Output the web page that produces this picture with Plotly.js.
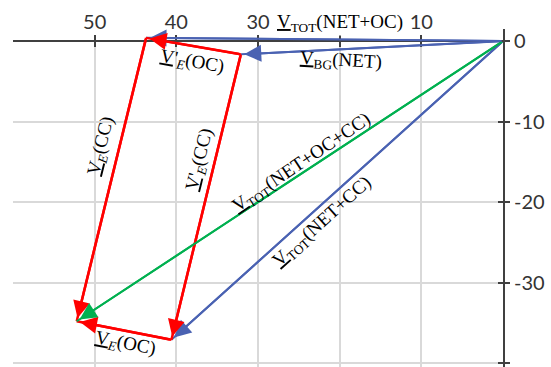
<!DOCTYPE html>
<html>
<head>
<meta charset="utf-8">
<script src="https://cdn.plot.ly/plotly-3.0.1.min.js"></script>
<style>html,body{margin:0;padding:0;background:#fff;}</style>
</head>
<body>
<div id="chart" style="width:551px;height:367px;"></div>
<script>
// ---- data ----
const pointNames = ['O', 'A', 'B', 'C', 'D'];
const pointX = [0, 43.7, 32.1, 52.2, 40.6];
const pointY = [0, 0.4, -1.65, -34.8, -37.1];

const vecNames = ['V_TOT(NET+OC)', 'V_BG(NET)', 'V_TOT(NET+CC)', "V'_E(OC)", 'V_E(CC)', "V'_E(CC)", 'V_E(OC)', 'V_TOT(NET+OC+CC)'];
const vecFrom  = ['O', 'O', 'O', 'B', 'A', 'B', 'D', 'O'];
const vecTo    = ['A', 'B', 'D', 'A', 'C', 'D', 'C', 'C'];
const vecKind  = ['blue', 'blue', 'blue', 'red', 'red', 'red', 'red', 'green'];

// the "20" label is hidden behind the V_TOT(NET+OC) caption in the reference
const xTickVals = [50, 40, 30, 20, 10];
const xTickText = ['50', '40', '30', '', '10'];
const yTickVals = [0, -10, -20, -30, -40];
const yTickText = ['0', '-10', '-20', '-30', '-40'];

// ---- styles ----
const kindStyle = {
  blue:  {color: '#4a62b2', width: 2},
  red:   {color: '#ff0000', width: 2.5},
  green: {color: '#00b050', width: 2}
};
const headPx = 3.4;            // arrow head scale (px per path unit)
const axisColor = '#404040';
const gridColor = '#d9d9d9';
const tickFont = {family: 'Lato, "Open Sans", sans-serif', size: 20, color: '#333333'};
const labelFont = {family: '"Liberation Serif", "DejaVu Serif", serif', size: 19, color: '#000000'};

const idx = n => pointNames.indexOf(n);

const traces = vecNames.map((name, i) => {
  const a = idx(vecFrom[i]), b = idx(vecTo[i]);
  const st = kindStyle[vecKind[i]];
  return {
    type: 'scatter', mode: 'lines', name: name,
    x: [pointX[a], pointX[b]], y: [pointY[a], pointY[b]],
    line: {color: st.color, width: st.width},
    cliponaxis: false, hoverinfo: 'skip'
  };
});
// dummy traces so that the overlay tick axes exist
traces.push({type: 'scatter', x: [], y: [], xaxis: 'x2', yaxis: 'y', hoverinfo: 'skip'});
traces.push({type: 'scatter', x: [], y: [], xaxis: 'x', yaxis: 'y2', hoverinfo: 'skip'});

// arrow heads through annotations in data coordinates
const arrowAnns = vecNames.map((name, i) => {
  const a = idx(vecFrom[i]), b = idx(vecTo[i]);
  const st = kindStyle[vecKind[i]];
  return {
    x: pointX[b], y: pointY[b], ax: pointX[a], ay: pointY[a],
    xref: 'x', yref: 'y', axref: 'x', ayref: 'y',
    text: '', showarrow: true, arrowhead: 2,
    arrowcolor: st.color, arrowwidth: st.width,
    arrowsize: headPx / st.width, standoff: headPx
  };
});

const yRange = [-40.48, 1.5];
const xPos = (0 - yRange[0]) / (yRange[1] - yRange[0]);

const labels = [
  {text: '<u>V</u><sub>TOT</sub>(NET+OC)', x: 20.0, py: 1.017, angle: 0, bg: '#ffffff'},
  {text: '<u>V</u><sub>BG</sub>(NET)', x: 19.85, y: -2.5, angle: 3},
  {text: "<u>V</u>'<sub><i>E</i></sub>(OC)", x: 38.1, y: -2.6, angle: 10},
  {text: '<u>V</u><sub><i>E</i></sub>(CC)', x: 49.2, y: -13.0, angle: -76},
  {text: "<u>V</u>'<sub><i>E</i></sub>(CC)", x: 37.1, y: -14.8, angle: -76},
  {text: '<u>V</u><sub>TOT</sub>(NET+OC+CC)', x: 24.6, y: -15.2, angle: -34},
  {text: '<u>V</u><sub>TOT</sub>(NET+CC)', x: 22.1, y: -22.5, angle: -42},
  {text: '<u>V</u><sub><i>E</i></sub>(OC)', x: 46.2, y: -37.6, angle: 11}
];

const labelAnns = labels.map(l => ({
  text: l.text, x: l.x, xref: 'x',
  y: (l.py !== undefined ? l.py : l.y), yref: (l.py !== undefined ? 'paper' : 'y'),
  xanchor: 'center', yanchor: 'middle', showarrow: false,
  textangle: l.angle, font: labelFont,
  bgcolor: l.bg || 'rgba(0,0,0,0)', borderpad: 0
}));

const layout = {
  width: 551, height: 367,
  margin: {l: 13, r: 48, t: 29, b: 0, pad: 0},
  paper_bgcolor: '#ffffff', plot_bgcolor: '#ffffff',
  showlegend: false, hovermode: false,
  xaxis: {
    range: [60, 0], side: 'top', anchor: 'free', position: xPos,
    showline: true, linecolor: axisColor, linewidth: 2,
    ticks: 'outside', ticklen: 5, tickwidth: 2, tickcolor: axisColor,
    tickmode: 'array', tickvals: xTickVals, ticktext: xTickText, tickfont: tickFont,
    ticklabelstandoff: -2,
    showgrid: true, gridcolor: gridColor, gridwidth: 2, zeroline: false, fixedrange: true
  },
  xaxis2: {
    range: [60, 0], overlaying: 'x', side: 'top', anchor: 'free', position: xPos,
    showline: false, ticks: 'inside', ticklen: 5, tickwidth: 2, tickcolor: axisColor,
    tickmode: 'array', tickvals: xTickVals, showticklabels: false,
    showgrid: false, zeroline: false, fixedrange: true
  },
  yaxis: {
    range: yRange, side: 'right', anchor: 'x',
    showline: true, linecolor: axisColor, linewidth: 2,
    ticks: 'outside', ticklen: 5, tickwidth: 2, tickcolor: axisColor,
    tickmode: 'array', tickvals: yTickVals, ticktext: yTickText, tickfont: tickFont,
    showgrid: true, gridcolor: gridColor, gridwidth: 2, zeroline: false, fixedrange: true
  },
  yaxis2: {
    range: yRange, overlaying: 'y', side: 'right', anchor: 'x',
    showline: false, ticks: 'inside', ticklen: 5, tickwidth: 2, tickcolor: axisColor,
    tickmode: 'array', tickvals: yTickVals, showticklabels: false,
    showgrid: false, zeroline: false, fixedrange: true
  },
  shapes: [{
    type: 'rect', layer: 'between', xref: 'x', yref: 'y',
    x0: 60, x1: 0, y0: 0.12, y1: yRange[1],
    fillcolor: '#ffffff', line: {width: 0}
  }],
  annotations: arrowAnns.concat(labelAnns)
};

Plotly.newPlot('chart', traces, layout, {displayModeBar: false, staticPlot: true});
</script>
</body>
</html>
